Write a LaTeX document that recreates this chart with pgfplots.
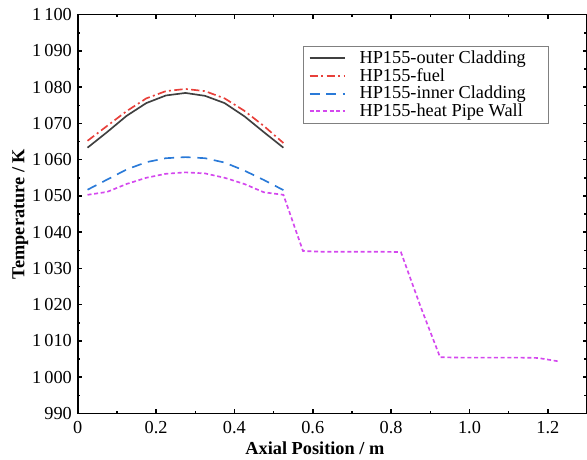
\documentclass[border=0pt]{standalone}
\usepackage{pgfplots}
\pgfplotsset{compat=1.18}
\usepackage{fontspec}
\setmainfont{Liberation Serif}
\definecolor{cBlack}{HTML}{404040}
\definecolor{cRed}{HTML}{E8403A}
\definecolor{cBlue}{HTML}{2A7AD8}
\definecolor{cMag}{HTML}{D448EE}
\begin{document}
\begin{tikzpicture}
\begin{axis}[
  scale only axis,
  width=306pt, height=239.6pt,
  xmin=0, xmax=1.3, ymin=990, ymax=1100,
  xtick={0,0.2,0.4,0.6,0.8,1.0,1.2},
  xticklabels={0,0.2,0.4,0.6,0.8,1.0,1.2},
  minor xtick={0.1,0.3,0.5,0.7,0.9,1.1},
  ytick={990,1000,1010,1020,1030,1040,1050,1060,1070,1080,1090,1100},
  yticklabels={990,1\,000,1\,010,1\,020,1\,030,1\,040,1\,050,1\,060,1\,070,1\,080,1\,090,1\,100},
  minor ytick={995,1005,1015,1025,1035,1045,1055,1065,1075,1085,1095},
  tick align=inside,
  major tick length=2.6pt, minor tick length=1.6pt,
  every tick/.style={black, line width=0.9pt},
  axis line style={line width=1pt},
  tick label style={font=\fontsize{11}{12}\selectfont},
  xticklabel style={yshift=-1.2pt},
  label style={font=\fontsize{11}{12}\selectfont\bfseries},
  xlabel={Axial Position / m},
  ylabel={Temperature / K},
  xlabel style={yshift=2pt, xshift=-10.5pt},
  ylabel style={yshift=-4.5pt},
  legend cell align=left,
  legend style={at={(axis description cs:0.925,0.922)}, anchor=north east,
    draw=gray, line width=0.6pt, font=\fontsize{11}{11}\selectfont,
    nodes={inner ysep=0.7pt, inner xsep=3.5pt}, inner xsep=3pt, inner ysep=2pt},
  legend image code/.code={\draw[line width=1.1pt,#1] (0pt,0pt) -- (21pt,0pt); \path (26pt,0pt);},
]
\addplot[cBlack, line width=1pt] coordinates {
(0.025,1063.3) (0.075,1067.6) (0.125,1072.1) (0.175,1075.6) (0.225,1077.7) (0.275,1078.4)
(0.325,1077.6) (0.375,1075.6) (0.425,1072.0) (0.475,1067.6) (0.525,1063.3)};
\addlegendentry{HP155-outer Cladding\kern7pt\mbox{}}
\addplot[cRed, line width=1pt, dash pattern=on 5pt off 2pt on 1.2pt off 2pt] coordinates {
(0.025,1065.2) (0.075,1069.3) (0.125,1073.4) (0.175,1076.9) (0.225,1078.9) (0.275,1079.5)
(0.325,1078.9) (0.375,1076.9) (0.425,1073.5) (0.475,1069.3) (0.525,1064.6)};
\addlegendentry{HP155-fuel}
\addplot[cBlue, line width=1pt, dash pattern=on 6pt off 4pt] coordinates {
(0.025,1051.7) (0.075,1054.5) (0.125,1057.3) (0.175,1059.3) (0.225,1060.4) (0.275,1060.7)
(0.325,1060.4) (0.375,1059.2) (0.425,1057.0) (0.475,1054.4) (0.525,1051.6)};
\addlegendentry{HP155-inner Cladding\kern7pt\mbox{}}
\addplot[cMag, line width=1pt, dash pattern=on 2.4pt off 1.6pt] coordinates {
(0.025,1050.3) (0.075,1051.1) (0.125,1053.3) (0.175,1055.0) (0.225,1056.1) (0.275,1056.5)
(0.325,1056.2) (0.375,1055.0) (0.425,1053.3) (0.475,1051.0) (0.525,1050.3)
(0.575,1034.8) (0.625,1034.6) (0.675,1034.6) (0.725,1034.6) (0.775,1034.6) (0.825,1034.5)
(0.875,1019.5) (0.925,1005.5) (0.975,1005.4) (1.025,1005.4) (1.075,1005.4) (1.125,1005.4)
(1.175,1005.3) (1.225,1004.4)};
\addlegendentry{HP155-heat Pipe Wall}
\end{axis}
\pgfresetboundingbox
\path ([shift={(-46.7pt,-27.6pt)}]current axis.south west) rectangle ([shift={(0pt,8.8pt)}]current axis.north east);
\end{tikzpicture}
\end{document}
